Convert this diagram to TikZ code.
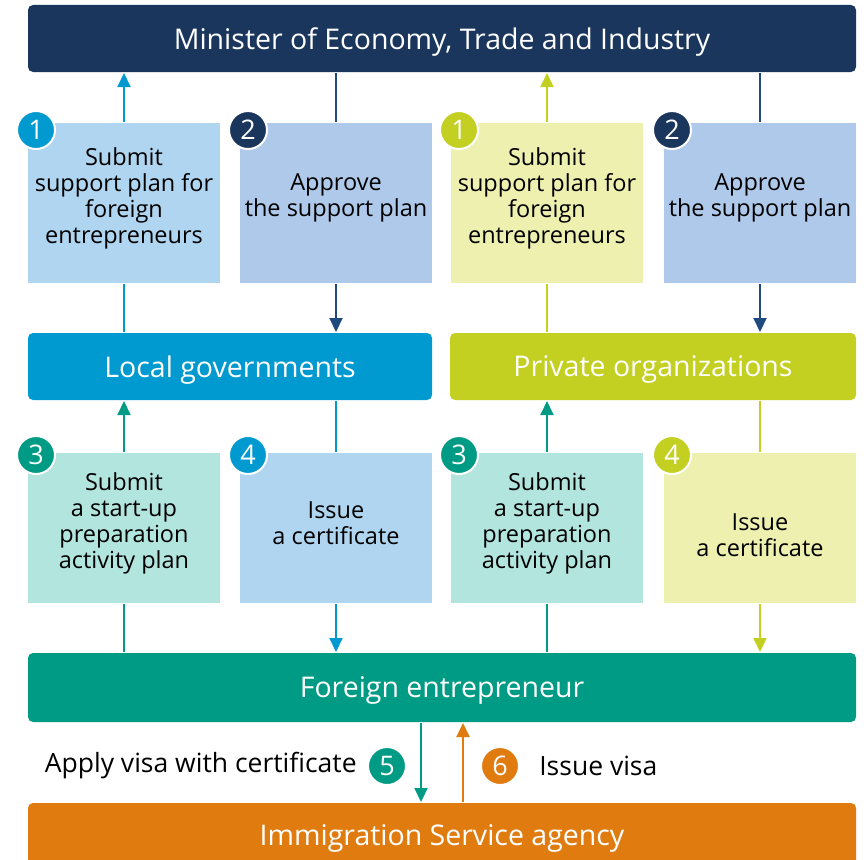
\documentclass[tikz,border=0pt]{standalone}
\usepackage{fontspec}
\setmainfont{Open Sans}
\usepackage{tikz}
\usetikzlibrary{arrows.meta,positioning}

\definecolor{navy}{RGB}{27,54,93}
\definecolor{navyline}{RGB}{31,74,128}
\definecolor{cblue}{RGB}{0,153,208}
\definecolor{cgreen}{RGB}{195,208,33}
\definecolor{cteal}{RGB}{0,155,132}
\definecolor{corange}{RGB}{224,123,16}
\definecolor{lblue}{RGB}{176,213,240}
\definecolor{lslate}{RGB}{175,201,234}
\definecolor{lyellow}{RGB}{238,240,176}
\definecolor{lteal}{RGB}{179,229,223}

\begin{document}
\begin{tikzpicture}[x=1pt,y=-1pt,>={Triangle[width=13pt,length=14pt]},line width=2pt]
  \tikzstyle{bar}=[rectangle,rounded corners=5pt,minimum height=67pt,inner sep=0pt,
                   text depth=0pt,text=white,font=\fontsize{28.5}{30}\selectfont]
  \tikzstyle{stepbox}=[rectangle,minimum width=192pt,inner sep=0pt]
  \tikzstyle{steptext}=[align=center,font=\fontsize{23.5}{26}\selectfont]
  \tikzstyle{num}=[circle,draw=white,line width=2pt,minimum size=38pt,inner sep=0pt,
                   text=white,font=\fontsize{27}{27}\selectfont]
  \tikzstyle{note}=[font=\fontsize{26.5}{28}\selectfont]

  \useasboundingbox (0,0) rectangle (864,859);
  \clip (0,0) rectangle (864,859);

  % bars
  \node [bar,fill=navy,minimum width=828pt] (min) at (442,38.5) {Minister of Economy, Trade and Industry};
  \node [bar,fill=cblue,minimum width=404pt] (lg) at (230,366.5) {Local governments};
  \node [bar,fill=cgreen,minimum width=406pt] (po) at (653,366.5) {Private organizations};
  \node [bar,fill=cteal,minimum width=828pt,minimum height=69pt] (fe) at (442,687.5) {Foreign entrepreneur};
  \node [bar,fill=corange,minimum width=828pt,minimum height=64pt] (isa) at (442,835) {Immigration Service agency};

  % upper steps
  \node [stepbox,fill=lblue,minimum height=160pt] (a1) at (124,203) {};
  \node [stepbox,fill=lslate,minimum height=160pt] (a2) at (336,203) {};
  \node [stepbox,fill=lyellow,minimum height=160pt] (b1) at (547,203) {};
  \node [stepbox,fill=lslate,minimum height=160pt] (b2) at (760,203) {};

  \node [steptext] at ([yshift=5pt]a1.center) {Submit\\support plan for\\foreign\\entrepreneurs};
  \node [steptext] at ([yshift=5pt]a2.center) {Approve\\the support plan};
  \node [steptext] at ([yshift=5pt]b1.center) {Submit\\support plan for\\foreign\\entrepreneurs};
  \node [steptext] at ([yshift=5pt]b2.center) {Approve\\the support plan};

  % lower steps
  \node [stepbox,fill=lteal,minimum height=150pt] (a3) at (124,528) {};
  \node [stepbox,fill=lblue,minimum height=150pt] (a4) at (336,528) {};
  \node [stepbox,fill=lteal,minimum height=150pt] (b3) at (547,528) {};
  \node [stepbox,fill=lyellow,minimum height=150pt] (b4) at (760,528) {};

  \node [steptext] at ([yshift=5pt]a3.center) {Submit\\a start-up\\preparation\\activity plan};
  \node [steptext] at ([yshift=5pt]a4.center) {Issue\\a certificate};
  \node [steptext] at ([yshift=5pt]b3.center) {Submit\\a start-up\\preparation\\activity plan};
  \node [steptext] at ([yshift=-7pt]b4.center) {Issue\\a certificate};

  % connectors, upper row
  \draw [cblue] (lg.north -| a1.south) -- (a1.south);
  \draw [cblue,->] (a1.north) -- (a1.north |- min.south);
  \draw [navyline] (min.south -| a2.north) -- (a2.north);
  \draw [navyline,->] (a2.south) -- (a2.south |- lg.north);
  \draw [cgreen] (po.north -| b1.south) -- (b1.south);
  \draw [cgreen,->] (b1.north) -- (b1.north |- min.south);
  \draw [navyline] (min.south -| b2.north) -- (b2.north);
  \draw [navyline,->] (b2.south) -- (b2.south |- po.north);

  % connectors, lower row
  \draw [cteal] (fe.north -| a3.south) -- (a3.south);
  \draw [cteal,->] (a3.north) -- (a3.north |- lg.south);
  \draw [cblue] (lg.south -| a4.north) -- (a4.north);
  \draw [cblue,->] (a4.south) -- (a4.south |- fe.north);
  \draw [cteal] (fe.north -| b3.south) -- (b3.south);
  \draw [cteal,->] (b3.north) -- (b3.north |- po.south);
  \draw [cgreen] (po.south -| b4.north) -- (b4.north);
  \draw [cgreen,->] (b4.south) -- (b4.south |- fe.north);

  % visa
  \draw [cteal,->] ([xshift=-21pt]fe.south) -- ([xshift=-21pt]fe.south |- isa.north);
  \draw [corange,->] ([xshift=21pt]isa.north) -- ([xshift=21pt]isa.north |- fe.south);

  % numbers
  \node [num,fill=cblue] at ([xshift=9pt,yshift=-8pt]a1.north west) {1};
  \node [num,fill=navy] at ([xshift=9pt,yshift=-8pt]a2.north west) {2};
  \node [num,fill=cgreen] at ([xshift=9pt,yshift=-8pt]b1.north west) {1};
  \node [num,fill=navy] at ([xshift=9pt,yshift=-8pt]b2.north west) {2};
  \node [num,fill=cteal] at ([xshift=9pt,yshift=-3pt]a3.north west) {3};
  \node [num,fill=cblue] at ([xshift=9pt,yshift=-3pt]a4.north west) {4};
  \node [num,fill=cteal] at ([xshift=9pt,yshift=-3pt]b3.north west) {3};
  \node [num,fill=cgreen] at ([xshift=9pt,yshift=-3pt]b4.north west) {4};

  \node [num,fill=cteal] (n5) at (387,766) {5};
  \node [num,fill=corange] (n6) at (500,766) {6};
  \node [note,left=6pt of n5] (apply) {Apply visa with certificate};
  \node [note,right=15pt of n6] (issue) {Issue visa};
\end{tikzpicture}
\end{document}
